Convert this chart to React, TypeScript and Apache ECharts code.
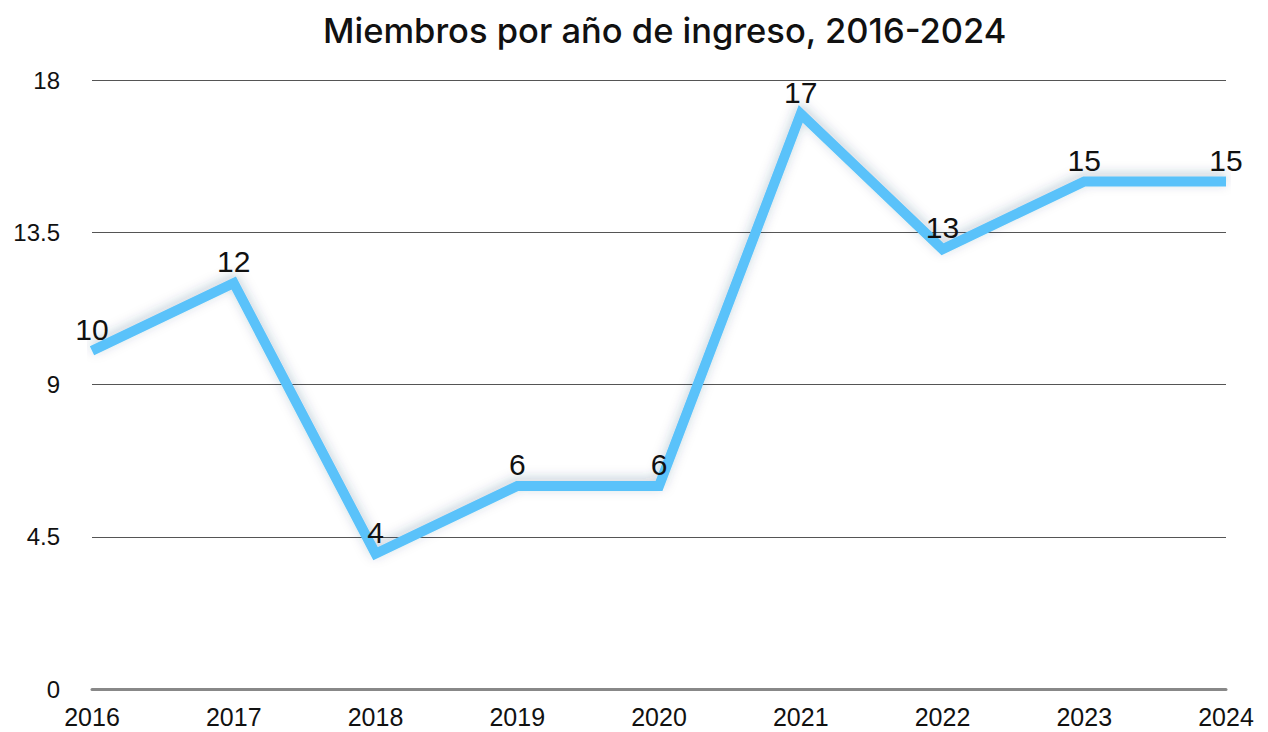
import React, { useEffect, useRef } from "react";
import * as echarts from "echarts";

const years = ["2016", "2017", "2018", "2019", "2020", "2021", "2022", "2023", "2024"];
const members = [10, 12, 4, 6, 6, 17, 13, 15, 15];
const yTicks = { min: 0, max: 18, interval: 4.5 };

export default function App() {
  const ref = useRef<HTMLDivElement>(null);
  useEffect(() => {
    if (!ref.current) return;
    const chart = echarts.init(ref.current, null, { renderer: "svg" });
    chart.setOption({
      animation: false,
      title: {
        text: "Miembros por año de ingreso, 2016-2024",
        left: 318,
        top: 8,
        textStyle: { fontFamily: "Inter, 'Open Sans', sans-serif", fontSize: 34.5, fontWeight: 500, color: "#111" },
      },
      grid: { left: 92, right: 42, top: 80, bottom: 43 },
      xAxis: {
        type: "category",
        data: years,
        boundaryGap: false,
        axisLine: { lineStyle: { color: "#888", width: 3 } },
        axisTick: { show: false },
        axisLabel: { fontFamily: "'Liberation Sans', Arial, sans-serif", fontSize: 25, color: "#111", margin: 15 },
      },
      yAxis: {
        type: "value",
        min: yTicks.min,
        max: yTicks.max,
        interval: yTicks.interval,
        axisLine: { show: false },
        axisTick: { show: false },
        splitLine: { lineStyle: { color: "#555", width: 1 } },
        axisLabel: { fontFamily: "'Liberation Sans', Arial, sans-serif", fontSize: 24, color: "#111", margin: 32 },
      },
      series: [
        {
          type: "line",
          data: members,
          symbol: "circle",
          symbolSize: 1,
          showSymbol: true,
          itemStyle: { color: "rgba(0,0,0,0)" },
          lineStyle: {
            color: "#5AC2FA",
            width: 10,
            cap: "butt",
            join: "miter",
            shadowColor: "rgba(40,60,100,0.25)",
            shadowBlur: 12,
            shadowOffsetY: -3,
          },
          label: {
            show: true,
            position: "top",
            distance: 6,
            fontFamily: "'Liberation Sans', Arial, sans-serif",
            fontSize: 30,
            color: "#111",
          },
        },
      ],
    });
    return () => chart.dispose();
  }, []);
  return <div ref={ref} style={{ width: 1268, height: 732, position: "absolute", left: 0, top: 0 }} />;
}
